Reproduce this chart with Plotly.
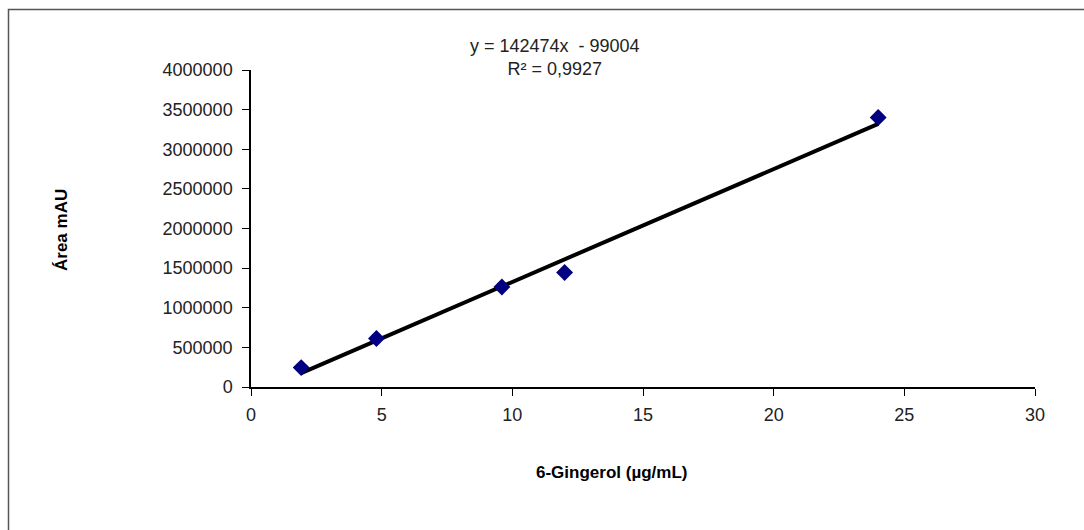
import plotly.graph_objects as go

# Calibration data: 6-Gingerol concentration vs. peak area
concentration = [1.92, 4.8, 9.6, 12.0, 24.0]
area = [245000, 612000, 1262000, 1445000, 3400000]

# Linear fit reported on the chart
slope = 142474
intercept = -99004
r_squared = "0,9927"

x_ticks = [0, 5, 10, 15, 20, 25, 30]
y_ticks = [0, 500000, 1000000, 1500000, 2000000, 2500000, 3000000, 3500000, 4000000]

x_title = "6-Gingerol (µg/mL)"
y_title = "Área mAU"

fit_x = [min(concentration), max(concentration)]
fit_y = [slope * v + intercept for v in fit_x]

W, H = 1084, 530
left, right, top, bottom = 251, 49, 70, 143
pw, ph = W - left - right, H - top - bottom

def px_to_paper_x(px):
    return (px - left) / pw

def px_to_paper_y(py):
    return (H - bottom - py) / ph

font_family = "Arial, 'Liberation Sans', sans-serif"

fig = go.Figure()
fig.add_trace(go.Scatter(
    x=fit_x, y=fit_y, mode="lines",
    line=dict(color="black", width=4),
    showlegend=False, hoverinfo="skip",
))
fig.add_trace(go.Scatter(
    x=concentration, y=area, mode="markers",
    marker=dict(symbol="diamond", size=13, color="#000080"),
    showlegend=False,
))

fig.update_layout(
    width=W, height=H,
    margin=dict(l=left, r=right, t=top, b=bottom),
    paper_bgcolor="white", plot_bgcolor="white",
    font=dict(family=font_family, size=18, color="#222222"),
    xaxis=dict(
        range=[0, 30], tickvals=x_ticks, ticktext=[str(v) for v in x_ticks],
        showline=True, linecolor="black", linewidth=1.5,
        ticks="outside", ticklen=7, tickcolor="black", tickwidth=1,
        showgrid=False, zeroline=False, ticklabelstandoff=4,
    ),
    yaxis=dict(
        range=[0, 4000000], tickvals=y_ticks, ticktext=[str(v) for v in y_ticks],
        showline=True, linecolor="black", linewidth=1.5,
        ticks="outside", ticklen=7, tickcolor="black", tickwidth=1,
        showgrid=False, zeroline=False, ticklabelstandoff=6,
    ),
    annotations=[
        dict(
            text=f"y = {slope}x  - {abs(intercept)}<br>R² = {r_squared}",
            xref="paper", yref="paper",
            x=px_to_paper_x(555), y=px_to_paper_y(57),
            xanchor="center", yanchor="middle", showarrow=False,
            font=dict(size=18, color="#222222"), align="center",
        ),
        dict(
            text=f"<b>{x_title}</b>",
            xref="paper", yref="paper",
            x=px_to_paper_x(611), y=px_to_paper_y(472),
            xanchor="center", yanchor="middle", showarrow=False,
            font=dict(size=17, color="black"),
        ),
        dict(
            text=f"<b>{y_title}</b>", textangle=-90,
            xref="paper", yref="paper",
            x=px_to_paper_x(61), y=px_to_paper_y(230),
            xanchor="center", yanchor="middle", showarrow=False,
            font=dict(size=17, color="black"),
        ),
    ],
    shapes=[
        dict(
            type="rect", xref="paper", yref="paper",
            x0=px_to_paper_x(8.5), x1=px_to_paper_x(1200),
            y0=px_to_paper_y(700), y1=px_to_paper_y(9.5),
            line=dict(color="#555555", width=1.5), fillcolor="rgba(0,0,0,0)",
            layer="below",
        )
    ],
)

fig.write_html("out.html")
